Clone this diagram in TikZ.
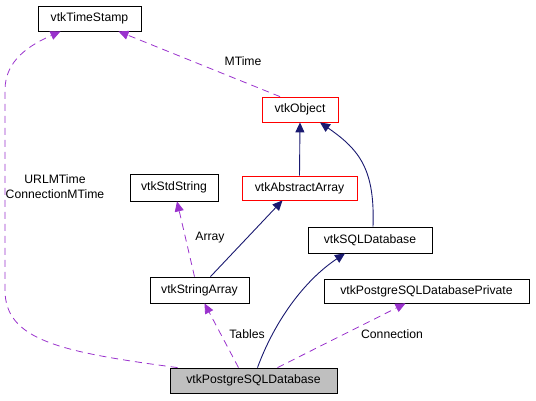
\documentclass[tikz,border=0pt]{standalone}
\usepackage{fontspec}
\setmainfont{Liberation Sans}
\usetikzlibrary{arrows.meta}
\definecolor{usecol}{HTML}{9A32CD}
\definecolor{inhcol}{HTML}{191970}
\begin{document}
\begin{tikzpicture}[x=1pt,y=-1pt,
  box/.style={draw=black,fill=white,line width=0.8pt,minimum height=25pt,inner sep=0pt,font=\fontsize{12.2}{15}\selectfont},
  redbox/.style={box,draw=red},
  usage/.style={draw=usecol,dashed,dash pattern=on 7pt off 5pt,line width=0.8pt,-{Triangle[length=10pt,width=9pt]}},
  inherit/.style={draw=inhcol,line width=0.9pt,-{Triangle[length=10pt,width=9pt]}},
  lbl/.style={font=\fontsize{12.2}{15}\selectfont,inner sep=0pt,align=center}]
\useasboundingbox (0,0) rectangle (536,400);
\node[box,minimum width=103pt] (ts) at (89.5,18.5) {vtkTimeStamp};
\node[redbox,minimum width=76pt] (obj) at (300,109.5) {vtkObject};
\node[redbox,minimum width=115pt,minimum height=24pt] (aa) at (299.5,188) {vtkAbstractArray};
\node[box,minimum width=124pt,minimum height=26pt] (sql) at (370,240) {vtkSQLDatabase};
\node[box,minimum width=88pt,minimum height=27pt] (std) at (174,187.5) {vtkStdString};
\node[box,minimum width=99pt,minimum height=26pt] (sa) at (199.5,290) {vtkStringArray};
\node[box,fill=black!25,minimum width=167pt,minimum height=25pt] (pg) at (253.5,380.5) {vtkPostgreSQLDatabase};
\node[box,minimum width=205pt,minimum height=24pt] (priv) at (426.5,291) {vtkPostgreSQLDatabasePrivate};

\draw[usage] ([xshift=-20pt]obj.north) -- ([xshift=29pt]ts.south);
\node[lbl] (lm) at (243,61) {MTime};
\draw[usage] ([xshift=-76pt]pg.north) .. controls (60,352) and (5,340) .. (5,290)
  -- (5,90) .. controls (5,60) and (30,45) .. ([xshift=-29pt]ts.south);
\node[lbl] (lu) at (55,186.5) {URLMTime\\ConnectionMTime};
\draw[inherit] (aa.north) -- (obj.south);
\draw[inherit] ([xshift=3pt]sql.north) .. controls (375,170) and (360,150) .. ([xshift=20pt]obj.south);
\draw[inherit] ([xshift=11pt]sa.north) -- ([xshift=-17pt]aa.south);
\draw[usage] ([xshift=-5pt]sa.north) -- ([xshift=3pt]std.south);
\node[lbl] (la) at (210,238) {Array};
\draw[usage] ([xshift=-15pt]pg.north) -- ([xshift=5pt]sa.south);
\node[lbl] (lt) at (247,334) {Tables};
\draw[inherit] ([xshift=4pt]pg.north) .. controls (275,320) and (305,280) .. ([xshift=-25pt]sql.south);
\draw[usage] ([xshift=24pt]pg.north) -- ([xshift=-21pt]priv.south);
\node[lbl] (lc) at (392,334) {Connection};
\end{tikzpicture}
\end{document}
